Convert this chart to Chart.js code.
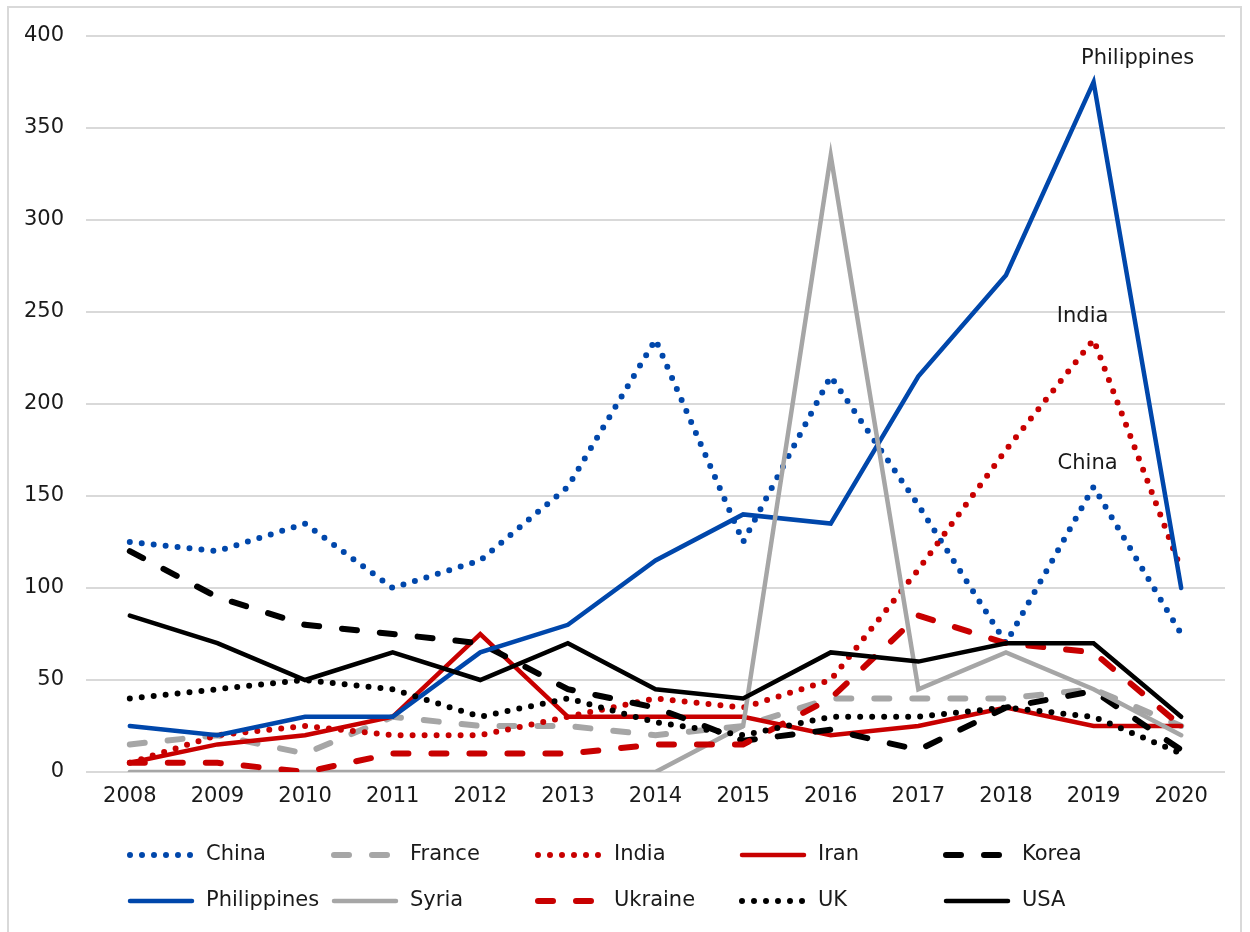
<!DOCTYPE html>
<html>
<head>
<meta charset="utf-8">
<script src="https://cdn.jsdelivr.net/npm/chart.js@4.4.1/dist/chart.umd.min.js"></script>
<style>
    html, body { margin: 0; padding: 0; background: #fff; }
    #moldura { position: absolute; left: 7px; top: 6px; width: 1235px; height: 940px; border: 2px solid #d9d9d9; box-sizing: border-box; }
    #area { position: absolute; left: 0; top: 0; width: 1250px; height: 932px; }
</style>
</head>
<body>
<div id="moldura"></div>
<div id="area"><canvas id="grafico" width="1250" height="932"></canvas></div>
<script>
// Dados
const anos = ["2008", "2009", "2010", "2011", "2012", "2013", "2014", "2015", "2016", "2017", "2018", "2019", "2020"]
const china       = [125, 120, 135, 100, 115, 155, 235, 125, 215, 145, 70, 155, 75]
const franca      = [15, 20, 10, 30, 25, 25, 20, 25, 40, 40, 40, 45, 25]
const india       = [5, 20, 25, 20, 20, 30, 40, 35, 50, 110, 175, 235, 110]
const ira         = [5, 15, 20, 30, 75, 30, 30, 30, 20, 25, 35, 25, 25]
const coreia      = [120, 95, 80, 75, 70, 45, 35, 17, 23, 12, 35, 44, 12]
const filipinas   = [25, 20, 30, 30, 65, 80, 115, 140, 135, 215, 270, 375, 100]
const siria       = [0, 0, 0, 0, 0, 0, 0, 25, 335, 45, 65, 45, 20]
const ucrania     = [5, 5, 0, 10, 10, 10, 15, 15, 40, 85, 70, 65, 25]
const reinoUnido  = [40, 45, 50, 45, 30, 40, 27, 20, 30, 30, 35, 30, 10]
const eua         = [85, 70, 50, 65, 50, 70, 45, 40, 65, 60, 70, 70, 30]
const ticksY      = [0, 50, 100, 150, 200, 250, 300, 350, 400]

const AZUL = "#0047ab", VERMELHO = "#c80000", CINZA = "#a6a6a6", PRETO = "#000000"
const PONTILHADO = [0, 12], TRACEJADO = [15, 23]
const FONTE = "'DejaVu Sans', sans-serif"
const TAM = 21

// Monta uma série de linha com o estilo do Excel
function serie(label, data, cor, dash, largura) {
    return {
        label: label, data: data,
        borderColor: cor, backgroundColor: cor,
        borderWidth: largura || 4.5,
        borderDash: dash || [],
        borderCapStyle: "round",
        borderJoinStyle: "miter",
        pointRadius: 0, pointHoverRadius: 0,
        tension: 0, fill: false
    }
}

const series = [
    serie("China", china, AZUL, PONTILHADO, 6),
    serie("France", franca, CINZA, TRACEJADO, 6),
    serie("India", india, VERMELHO, PONTILHADO, 6),
    serie("Iran", ira, VERMELHO),
    serie("Korea", coreia, PRETO, TRACEJADO, 6),
    serie("Philippines", filipinas, AZUL),
    serie("Syria", siria, CINZA),
    serie("Ukraine", ucrania, VERMELHO, TRACEJADO, 6),
    serie("UK", reinoUnido, PRETO, PONTILHADO, 6),
    serie("USA", eua, PRETO)
]
// a última série fica por cima, como no Excel
series.forEach((s, i) => s.order = series.length - i)

// Rótulos de dados que aparecem no gráfico (série, ano, deslocamento em x)
const rotulos = [
    { serie: "Philippines", ano: "2019", dx: 44 },
    { serie: "India", ano: "2019", dx: -11 },
    { serie: "China", ano: "2019", dx: -6 }
]

// Plugin para escrever os rótulos acima dos pontos
const rotulosPlugin = {
    id: "rotulos",
    afterDatasetsDraw(chart) {
        const ctx = chart.ctx
        ctx.save()
        ctx.font = TAM + "px " + FONTE
        ctx.fillStyle = "#1a1a1a"
        ctx.textAlign = "center"
        ctx.textBaseline = "middle"
        rotulos.forEach(r => {
            const ds = chart.data.datasets.find(d => d.label === r.serie)
            const i = chart.data.labels.indexOf(r.ano)
            const x = chart.scales.x.getPixelForValue(i) + r.dx
            const y = chart.scales.y.getPixelForValue(ds.data[i]) - 23
            ctx.fillText(r.serie, x, y)
        })
        ctx.restore()
    }
}

// Plugin da legenda em grade (5 colunas x 2 linhas)
const legendaPlugin = {
    id: "legendaGrade",
    afterDraw(chart) {
        const ctx = chart.ctx
        chart.data.datasets.forEach((ds, i) => {
            const col = i % 5, lin = Math.floor(i / 5)
            const x = 130 + col * 204
            const y = chart.chartArea.bottom + 83 + lin * 46
            ctx.save()
            ctx.strokeStyle = ds.borderColor
            ctx.lineWidth = ds.borderWidth
            ctx.lineCap = "round"
            ctx.setLineDash(ds.borderDash)
            ctx.beginPath()
            ctx.moveTo(x, y)
            ctx.lineTo(x + 62, y)
            ctx.stroke()
            ctx.setLineDash([])
            ctx.font = TAM + "px " + FONTE
            ctx.fillStyle = "#1a1a1a"
            ctx.textBaseline = "middle"
            ctx.fillText(ds.label, x + 76, y)
            ctx.restore()
        })
    }
}

const ctx = document.getElementById("grafico").getContext("2d")
const grafico = new Chart(ctx, {
    type: "line",
    data: { labels: anos, datasets: series },
    plugins: [rotulosPlugin, legendaPlugin],
    options: {
        responsive: false,
        animation: false,
        layout: { padding: { top: 36, right: 25, bottom: 120, left: 0 } },
        plugins: {
            legend: { display: false },
            tooltip: { enabled: false },
            title: { display: false }
        },
        scales: {
            x: {
                offset: true,
                grid: { display: false },
                border: { display: false },
                ticks: { font: { size: TAM, family: FONTE }, color: "#1a1a1a", padding: 4, maxRotation: 0 },
                afterFit: s => { s.height = 40 }
            },
            y: {
                min: 0, max: 400,
                afterBuildTicks: s => { s.ticks = ticksY.map(v => ({ value: v })) },
                grid: { color: "#d9d9d9", lineWidth: 2, drawTicks: false },
                border: { display: false },
                ticks: { font: { size: TAM, family: FONTE }, color: "#1a1a1a", padding: 22 },
                afterFit: s => { s.width = 86 }
            }
        }
    }
})
</script>
</body>
</html>
